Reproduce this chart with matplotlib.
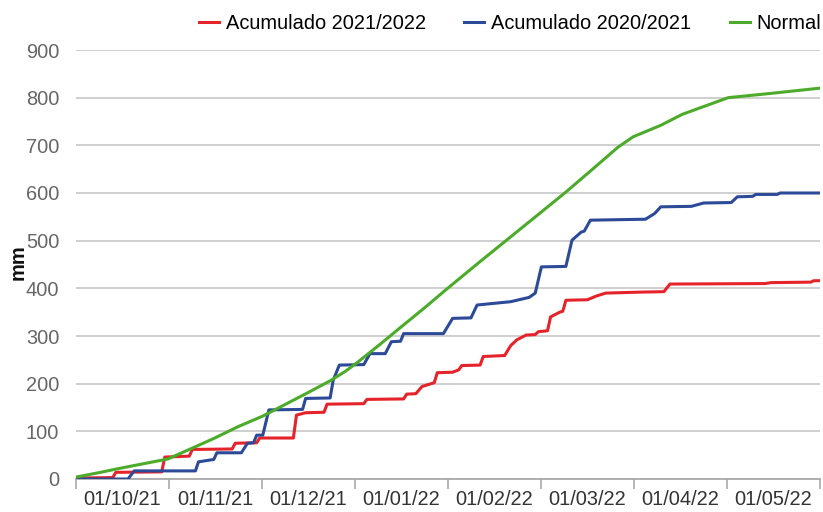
import matplotlib
matplotlib.use("Agg")
import matplotlib.pyplot as plt
import numpy as np

# x = days since 01/10/21 (axis covers 8 equal-width month slots)
month_labels = ["01/10/21", "01/11/21", "01/12/21", "01/01/22",
                "01/02/22", "01/03/22", "01/04/22", "01/05/22"]
n_days = 243

red_days = [0, 12, 13, 28, 29, 37, 38, 51, 52, 59, 60, 71, 72, 75, 81, 82, 94, 95,
            107, 108, 111, 113, 117, 118, 123, 125, 126, 132, 133, 140, 142, 144,
            147, 150, 151, 154, 155, 158, 159, 160, 167, 170, 173, 184, 192, 194,
            225, 227, 240, 241, 243]
red_mm = [2, 3, 14, 15, 46, 48, 62, 63, 75, 76, 86, 86, 134, 139, 140, 157, 158, 167,
          168, 178, 179, 194, 202, 223, 224, 229, 238, 239, 257, 259, 280, 292,
          302, 303, 309, 311, 340, 350, 352, 375, 376, 384, 390, 392, 393, 409,
          410, 412, 413, 416, 416]

blue_days = [0, 17, 19, 39, 40, 44, 45, 46, 54, 56, 58, 59, 61, 63, 74, 75, 83, 84,
             86, 94, 96, 101, 103, 106, 107, 120, 123, 129, 131, 142, 148, 150, 152,
             160, 162, 165, 166, 168, 186, 189, 191, 201, 205, 214, 216, 221, 222,
             229, 230, 243]
blue_mm = [0, 0, 17, 17, 36, 40, 41, 55, 55, 75, 76, 92, 92, 145, 146, 169, 170, 207,
           239, 240, 263, 263, 288, 289, 305, 305, 337, 338, 365, 372, 381, 390, 445,
           446, 501, 518, 520, 543, 545, 557, 571, 572, 579, 580, 592, 593, 597,
           597, 600, 600]

green_days = [0, 8, 14, 22, 30, 37, 45, 53, 61, 70, 76, 83, 88, 92, 99, 106, 114,
              121, 131, 141, 151, 160, 168, 177, 182, 191, 198, 213, 227, 243]
green_mm = [4, 14, 22, 32, 42, 62, 85, 110, 132, 162, 182, 206, 226, 245, 281, 318,
            360, 398, 451, 503, 555, 602, 646, 696, 718, 742, 765, 800, 809, 820]

series_names = ["Acumulado 2021/2022", "Acumulado 2020/2021", "Normal"]
colors = ["#e4232a", "#2d4a98", "#4cab2b"]

plt.rcParams['font.family'] = ['Liberation Sans', 'DejaVu Sans']

fig = plt.figure(figsize=(8.23, 5.12), dpi=100)
ax = fig.add_axes([76/823, 1-479/512, (820-76)/823, (479-50)/512])

lw = 2.2
ax.plot(red_days, red_mm, color=colors[0], lw=lw, label=series_names[0], zorder=3)
ax.plot(blue_days, blue_mm, color=colors[1], lw=lw, label=series_names[1], zorder=3)
ax.plot(green_days, green_mm, color=colors[2], lw=lw, label=series_names[2], zorder=4)

ax.set_xlim(0, n_days)
ax.set_ylim(0, 900)
ax.set_yticks(np.arange(0, 901, 100))
ax.yaxis.grid(True, color="#cccccc", lw=1.3)
ax.set_axisbelow(True)
ax.tick_params(axis='y', length=0, pad=12, labelsize=14.4, labelcolor="#666666")

step = n_days / len(month_labels)
ax.set_xticks([step * (i + 0.5) for i in range(len(month_labels))])
ax.set_xticklabels(month_labels)
ax.set_xticks([step * i for i in range(len(month_labels) + 1)], minor=True)
ax.tick_params(axis='x', which='major', length=0, pad=8, labelsize=14.4, labelcolor="#333333")
ax.tick_params(axis='x', which='minor', length=7, width=1.2, color="#aaaaaa")

for s in ['top', 'right', 'left']:
    ax.spines[s].set_visible(False)
ax.spines['bottom'].set_color("#aaaaaa")
ax.spines['bottom'].set_linewidth(1.3)

fig.text(18/823, 1-262/512, "mm", rotation=90, ha='center', va='center',
         fontsize=14.4, fontweight='bold', color="#111111")

leg = fig.legend(loc='upper right', bbox_to_anchor=(1.015, 1.0), ncol=3,
                 frameon=False, fontsize=14.4, handlelength=1.0, handletextpad=0.35,
                 columnspacing=1.9, borderaxespad=0.3)

fig.savefig("out.png", dpi=100)
